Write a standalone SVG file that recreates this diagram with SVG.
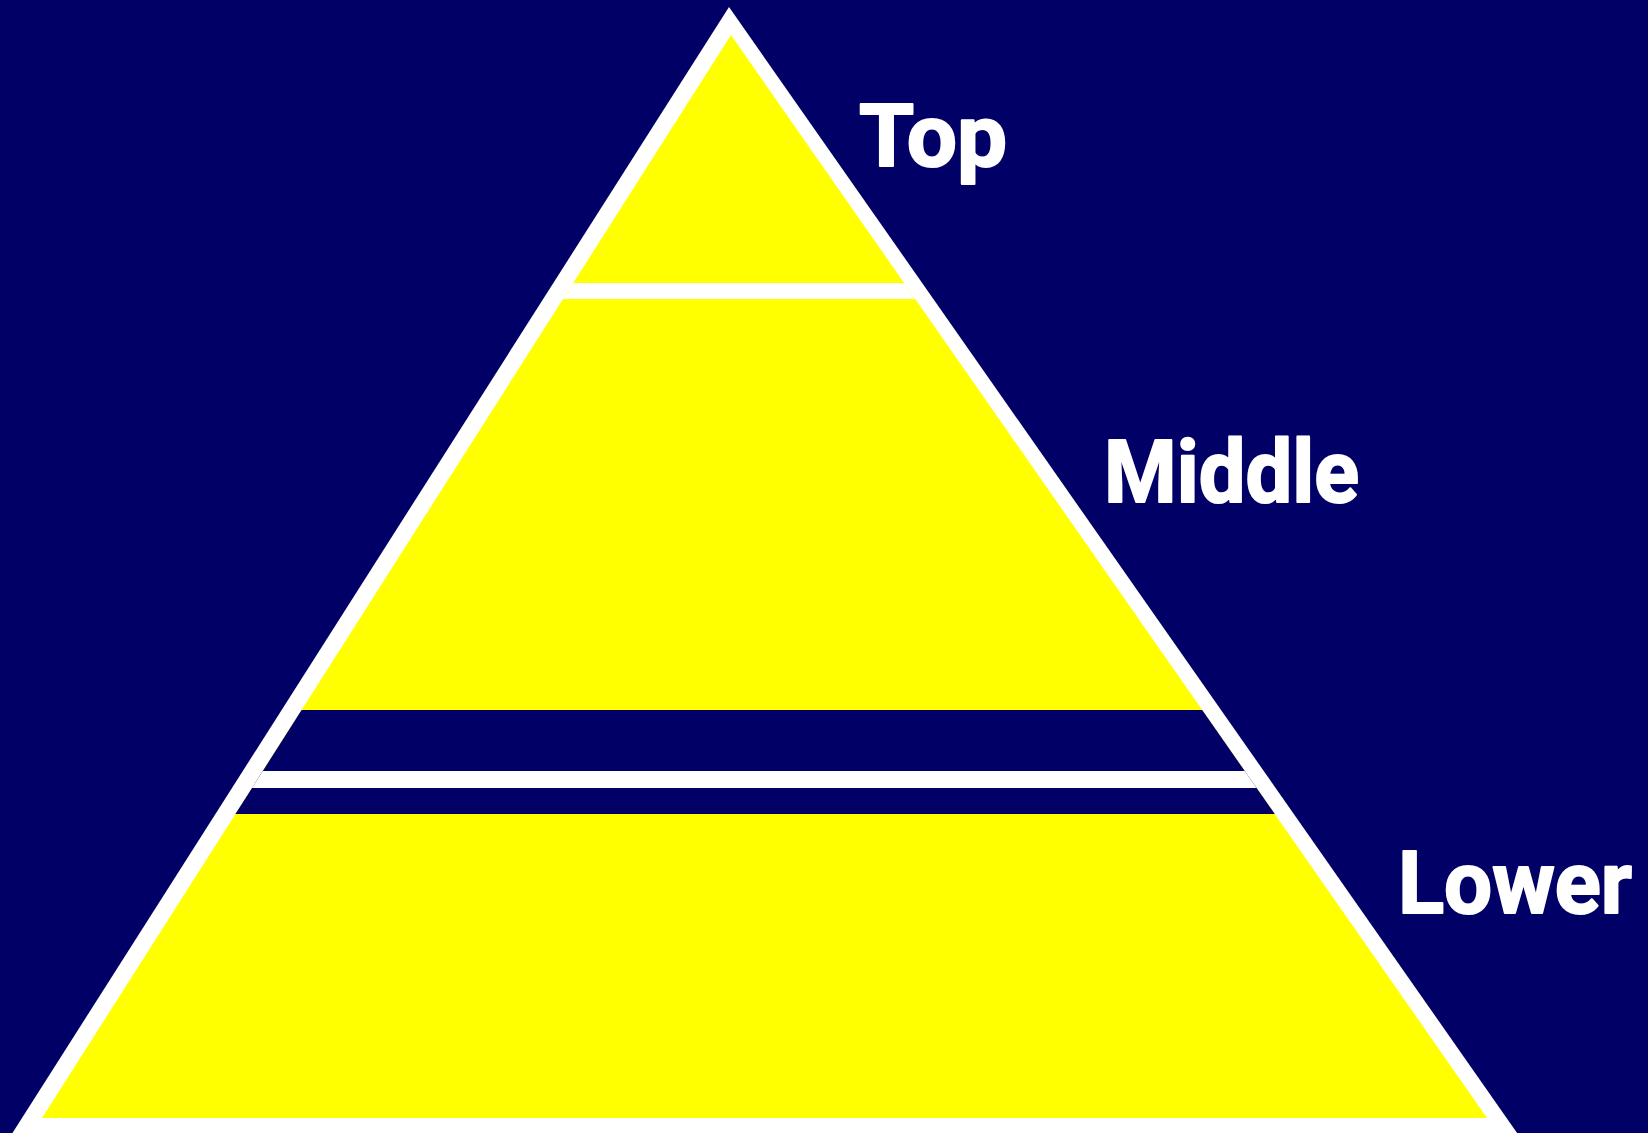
<svg xmlns="http://www.w3.org/2000/svg" width="1648" height="1133" viewBox="0 0 1648 1133">
  <style>
    .bg { fill: #000066; }
    .white { fill: #FFFFFF; }
    .yellow { fill: #FFFF00; }
    .navy { fill: #000066; }
    .label { fill: #FFFFFF; stroke: #FFFFFF; stroke-width: 2; stroke-linejoin: round; font-family: "Comic Sans MS", Roboto, "DejaVu Sans", sans-serif; font-weight: bold; font-size: 88px; }
  </style>
  <rect class="bg" x="0" y="0" width="1648" height="1133"/>
  <g id="pyramid">
    <polygon class="white" points="729,7 8,1140 1522,1140"/>
    <polygon class="yellow" points="731,35 42,1118 1487,1118"/>
  </g>
  <g id="top-divider">
    <polygon class="white" points="573.2,283 904.1,283 915.3,299 563,299"/>
  </g>
  <g id="lower-divider">
    <polygon class="navy" points="301.6,710 1202.2,710 1274.8,814 235.4,814"/>
    <polygon class="white" points="262.8,771 1244.8,771 1256.6,788 251.9,788"/>
  </g>
  <g id="label-top">
    <text class="label" x="859" y="166" textLength="148" lengthAdjust="spacingAndGlyphs">Top</text>
  </g>
  <g id="label-middle">
    <text class="label" x="1104" y="502" textLength="255" lengthAdjust="spacingAndGlyphs">Middle</text>
  </g>
  <g id="label-lower">
    <text class="label" x="1398" y="913" textLength="234" lengthAdjust="spacingAndGlyphs">Lower</text>
  </g>
</svg>
